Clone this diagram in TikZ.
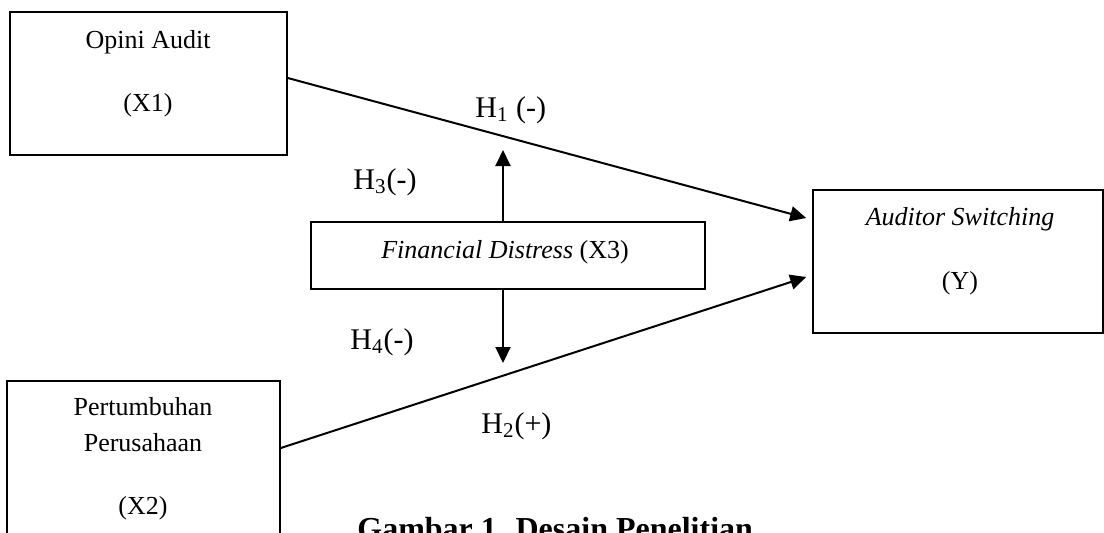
\documentclass[tikz,border=0pt]{standalone}
\usepackage{fontspec}
\setmainfont{Liberation Serif}
\usetikzlibrary{%
    arrows.meta,
    positioning
}

\tikzset{
    box/.style={draw, line width=0.8pt, inner sep=0pt},
    txt/.style={anchor=base, inner sep=0pt, font=\fontsize{13}{15}\selectfont},
    hyp/.style={anchor=base west, inner sep=0pt, font=\fontsize{15}{18}\selectfont},
    conn/.style={line width=1pt, -{Triangle[length=8pt,width=7.5pt]}}
}

\begin{document}
\begin{tikzpicture}[x=0.5pt, y=-0.5pt]
    \useasboundingbox (0,0) rectangle (1104,532);

    % boxes
    \node[box, minimum width=138.5pt, minimum height=71.5pt] (x1box) at (148.5,83.5) {};
    \node[box, minimum width=136.5pt, minimum height=89.5pt] (x2box) at (143.5,470.5) {};
    \node[box, minimum width=197pt,   minimum height=33.5pt] (x3box) at (508,255.5) {};
    \node[box, minimum width=145pt,   minimum height=71.5pt] (ybox)  at (958,261.5) {};

    % box texts
    \node[txt] (x1name) at (148,48.5) {Opini Audit};
    \node[txt] (x1code) at (148,111)  {(X1)};
    \node[txt] (x2name) at (143,415)  {Pertumbuhan};
    \node[txt] (x2firm) at (143,451)  {Perusahaan};
    \node[txt] (x2code) at (143,514)  {(X2)};
    \node[txt] (x3name) at (505,258)  {\textit{Financial Distress} (X3)};
    \node[txt] (yname)  at (960,225)  {\textit{Auditor Switching}};
    \node[txt] (ycode)  at (960,289)  {(Y)};

    % hypotheses
    \node[hyp] (h1) at (475,117) {H\textsubscript{1} (-)};
    \node[hyp] (h2) at (481,433) {H\textsubscript{2}(+)};
    \node[hyp] (h3) at (353,189) {H\textsubscript{3}(-)};
    \node[hyp] (h4) at (350,349) {H\textsubscript{4}(-)};

    % connector ends
    \coordinate (x1out) at ([yshift=2.75pt]x1box.east);
    \coordinate (x2out) at ([yshift=11.25pt]x2box.east);
    \coordinate (yin1)  at ([xshift=-3pt, yshift=21.75pt]ybox.west);
    \coordinate (yin2)  at ([xshift=-3pt, yshift=-7.75pt]ybox.west);
    \coordinate (x3top) at ([xshift=-2.5pt]x3box.north);
    \coordinate (x3bot) at ([xshift=-2.5pt]x3box.south);
    \coordinate (h3tip) at (503,150);
    \coordinate (h4tip) at (503,363);

    \foreach \Source/\Target in {%
        x1out/yin1,
        x2out/yin2,
        x3top/h3tip,
        x3bot/h4tip%
        }
        \draw[conn] (\Source) -- (\Target);

    % caption
    \node[anchor=base west, inner sep=0pt, font=\fontsize{16}{19}\selectfont\bfseries]
        (caption) at (357,539) {Gambar 1. Desain Penelitian};
\end{tikzpicture}
\end{document}
